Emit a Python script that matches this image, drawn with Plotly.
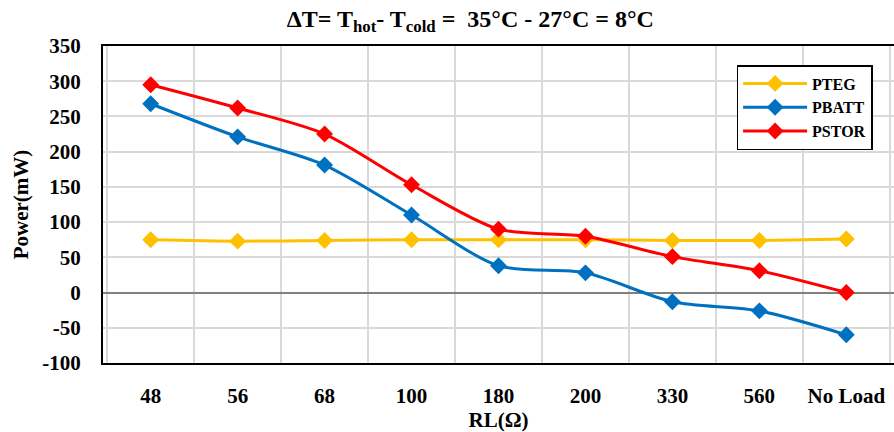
import plotly.graph_objects as go

categories = ["48", "56", "68", "100", "180", "200", "330", "560", "No Load"]
pteg = [75, 73, 74, 75, 75, 75, 74, 74, 76]
pbatt = [268, 221, 181, 110, 38, 28, -13, -26, -60]
pstor = [295, 262, 225, 153, 90, 80, 51, 31, 0]
y_ticks = [-100, -50, 0, 50, 100, 150, 200, 250, 300, 350]
y_tick_labels = ["-100", "-50", "0", "50", "100", "150", "200", "250", "300", "350"]

FONT = "Liberation Serif"

fig = go.Figure()
for name, vals, col in [("PTEG", pteg, "#FFC000"), ("PBATT", pbatt, "#0070C0"), ("PSTOR", pstor, "#FF0000")]:
    fig.add_trace(go.Scatter(
        x=categories, y=vals, name=name, mode="lines+markers",
        line=dict(color=col, width=3, shape="spline", smoothing=0.8),
        marker=dict(symbol="diamond", size=13, color=col),
    ))

fig.update_layout(
    width=894, height=432,
    margin=dict(l=103, r=0, t=46, b=69, autoexpand=False),
    paper_bgcolor="white", plot_bgcolor="white",
    font=dict(family=FONT, size=21, color="black", weight="bold"),
    title=dict(
        text="ΔT= T<sub>hot</sub>- T<sub>cold</sub> =  35°C - 27°C = 8°C",
        x=0.526, xanchor="center", y=0.957, yanchor="middle",
        font=dict(family=FONT, size=24, color="black", weight="bold"),
    ),
    showlegend=True,
    legend=dict(
        x=0.801, y=0.94, xanchor="left", yanchor="top",
        bordercolor="black", borderwidth=1.5, bgcolor="white",
        font=dict(family=FONT, size=16, color="black", weight="bold"),
        itemwidth=64, tracegroupgap=0,
    ),
)

fig.update_xaxes(
    type="category", tickson="boundaries", automargin=False,
    showgrid=True, gridcolor="#d9d9d9", gridwidth=1.5,
    showline=True, linecolor="black", linewidth=2, mirror=True,
    ticks="", ticklabelstandoff=13,
    tickfont=dict(family=FONT, size=21, color="black", weight="bold"),
    title=dict(text="RL(Ω)", standoff=21, font=dict(family=FONT, size=21, weight="bold")),
)
fig.update_yaxes(
    range=[-100, 350], tickvals=y_ticks, ticktext=y_tick_labels, automargin=False,
    showgrid=True, gridcolor="#d9d9d9", gridwidth=1.5,
    zeroline=True, zerolinecolor="#808080", zerolinewidth=2,
    showline=True, linecolor="black", linewidth=2, mirror=True,
    ticks="", ticklabelstandoff=16,
    tickfont=dict(family=FONT, size=21, color="black", weight="bold"),
    title=dict(text="Power(mW)", standoff=8, font=dict(family=FONT, size=21, weight="bold")),
)

fig.write_html("out.html", config={"displayModeBar": False},
               post_script="document.body.style.margin='0';")
